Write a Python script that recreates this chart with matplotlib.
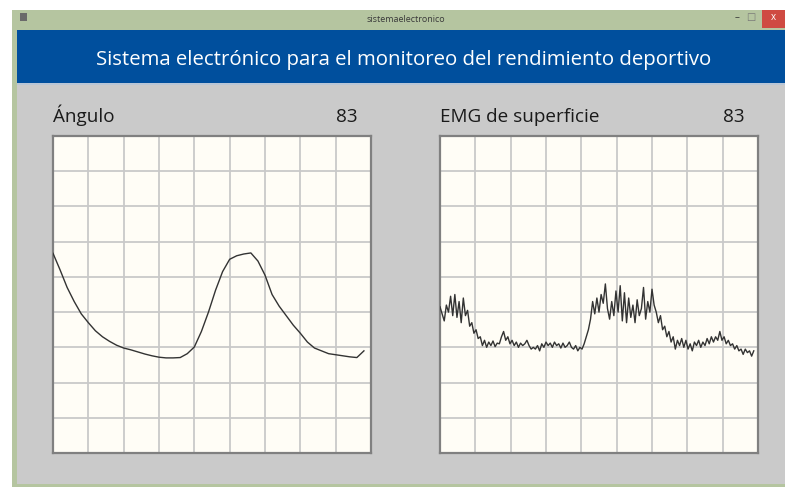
import matplotlib
matplotlib.use("Agg")
import matplotlib.pyplot as plt
import matplotlib.patches as patches
import numpy as np

# Datos (unidades de cuadricula x10, rango 0-90)
angulo = [56.7, 52.0, 47.0, 43.0, 39.5, 37.0, 34.7, 33.0, 31.7, 30.6,
          29.8, 29.3, 28.7, 28.1, 27.6, 27.2, 27.0, 27.0, 27.1, 28.2,
          30.1, 34.5, 40.0, 46.2, 51.5, 55.0, 56.0, 56.5, 56.8, 54.5,
          50.5, 45.0, 41.7, 39.0, 36.3, 34.0, 31.5, 29.8, 29.0, 28.2,
          27.9, 27.6, 27.3, 27.1, 29.0]
emg = [41.5, 39.5, 37.5, 42.0, 40.0, 44.5, 39.0, 45.0, 38.5, 43.0,
       37.0, 44.0, 39.0, 40.5, 36.0, 37.0, 34.0, 35.0, 32.5, 33.0,
       30.5, 32.0, 30.0, 31.5, 30.5, 31.8, 30.2, 31.2, 31.0, 33.0,
       34.5, 32.0, 33.0, 31.0, 32.0, 30.5, 31.5, 30.0, 31.2, 30.5,
       31.0, 32.0, 30.5, 29.5, 30.0, 29.5, 30.5, 29.0, 31.0, 30.0,
       31.5, 30.5, 31.2, 30.0, 31.5, 30.5, 31.0, 29.8, 31.2, 30.0,
       30.5, 31.5, 30.0, 29.5, 30.5, 29.0, 30.0, 29.5, 31.0, 33.0,
       35.0, 38.0, 43.0, 39.5, 44.0, 40.0, 45.0, 42.5, 48.0, 41.0,
       38.0, 43.0, 39.0, 46.0, 40.0, 47.5, 37.5, 45.5, 37.0, 44.0,
       38.5, 42.0, 37.0, 43.5, 39.0, 41.0, 47.0, 38.0, 43.0, 40.0,
       46.5, 42.0, 40.0, 37.0, 39.0, 35.0, 36.0, 33.0, 34.5, 31.5,
       33.0, 29.5, 32.0, 30.5, 32.5, 30.0, 32.0, 29.5, 31.0, 29.0,
       31.5, 30.5, 32.0, 30.0, 31.5, 30.5, 32.5, 31.0, 33.0, 31.5,
       33.0, 32.0, 34.5, 32.0, 33.0, 31.0, 32.0, 30.5, 31.0, 29.5,
       30.5, 29.0, 29.5, 28.0, 29.5, 28.5, 29.0, 27.5, 29.0]
paso_angulo = 0.2
paso_emg = 0.06
titulo_ventana = "sistemaelectronico"
titulo = "Sistema electrónico para el monitoreo del rendimiento deportivo"
paneles = [("Ángulo", "83"), ("EMG de superficie", "83")]

W, H = 785, 490
fig = plt.figure(figsize=(W / 100, H / 100), dpi=100)
fig.patch.set_facecolor("white")
plt.rcParams["font.family"] = ["Open Sans", "DejaVu Sans"]


def px_rect(x0, y0, x1, y1, color):
    # rectangulo en pixeles de pantalla (origen arriba a la izquierda)
    fig.patches.append(patches.Rectangle((x0 / W, 1 - y1 / H), (x1 - x0) / W, (y1 - y0) / H,
                                         transform=fig.transFigure, facecolor=color,
                                         edgecolor="none", zorder=-5))


def px_text(x, y, s, **kw):
    fig.text(x / W, 1 - y / H, s, **kw)


# marco de la ventana
px_rect(12, 10, W, 487, "#b5c5a0")
px_rect(17, 30, W, 484, "#cacaca")
px_rect(17, 30, W, 83, "#004f9d")
px_rect(17, 83, W, 85, "#b9c6d6")
px_rect(20, 13, 27, 21, "#6a6a6a")
px_rect(762, 10, W, 28, "#cf4a42")
px_text(773, 18, "x", color="white", fontsize=7, ha="center", va="center")
px_text(737, 18, "–", color="#333333", fontsize=7, ha="center", va="center")
px_text(751, 17, "□", color="#777777", fontsize=7, ha="center", va="center",
        family="DejaVu Sans")
px_text(406, 19, titulo_ventana, color="#3a3a3a", fontsize=6.5, ha="center", va="center")
px_text(404, 60, titulo, color="white", fontsize=14.7, ha="center", va="center")

lefts = [53, 440]
series = [(angulo, paso_angulo), (emg, paso_emg)]
for left, (nombre, valor), (datos, paso) in zip(lefts, paneles, series):
    px_text(left, 122, nombre, color="#1a1a1a", fontsize=13.6, ha="left", va="baseline")
    px_text(left + 305, 122, valor, color="#1a1a1a", fontsize=13.6, ha="right", va="baseline")

    ax = fig.add_axes([left / W, 1 - 453 / H, 318 / W, 317 / H])
    ax.set_zorder(5)
    ax.set_facecolor("#fffdf6")
    t = np.arange(len(datos)) * paso
    ax.plot(t, datos, color="#333333", lw=1.0, zorder=3)
    ax.set_xlim(0, 9)
    ax.set_ylim(0, 90)
    ax.set_xticks(np.arange(1, 9))
    ax.set_yticks(np.arange(10, 90, 10))
    ax.grid(True, color="#c9c9c9", lw=1.3)
    ax.tick_params(length=0, labelbottom=False, labelleft=False)
    for sp in ax.spines.values():
        sp.set_color("#808080")
        sp.set_linewidth(1.6)

fig.savefig("out.png", dpi=100, facecolor=fig.get_facecolor())
